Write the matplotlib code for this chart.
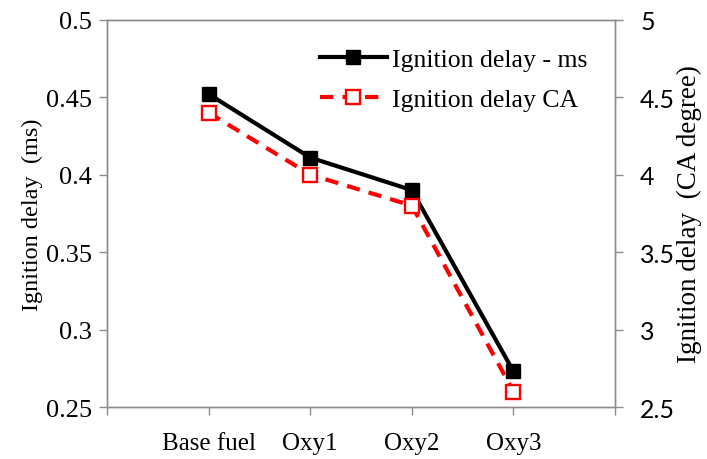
import numpy as np
import matplotlib.pyplot as plt

# categories (blank slots at both ends, like the Excel sheet)
categories = ["", "Base fuel", "Oxy1", "Oxy2", "Oxy3", ""]
fuels = ["Base fuel", "Oxy1", "Oxy2", "Oxy3"]
delay_ms = [0.452, 0.411, 0.390, 0.273]
delay_ca = [4.40, 4.00, 3.80, 2.60]

serif = "Liberation Serif"
grey = "#8c8c8c"

fig = plt.figure(figsize=(7.07, 4.60), dpi=100)
ax1 = fig.add_axes([0.1513, 0.113, 0.7187, 0.842])
ax2 = ax1.twinx()

x = np.arange(1, len(fuels) + 1)

l1, = ax1.plot(x, delay_ms, color="black", lw=3, marker="s", ms=9.5,
               mfc="black", mec="black", label="Ignition delay - ms")
l2, = ax2.plot(x, delay_ca, color="#ff0000", lw=3, ls=(0, (3.2, 2.2)), marker="s", ms=9.5,
               mfc="white", mec="#ff0000", mew=1.7, label="Ignition delay CA")

ax1.set_xlim(0, len(categories) - 1)
ax1.set_xticks(np.arange(len(categories)))
ax1.set_xticklabels(categories, fontfamily=serif, fontsize=18)

ax1.set_ylim(0.25, 0.5)
ax1.set_yticks([0.25, 0.3, 0.35, 0.4, 0.45, 0.5])
ax1.set_yticklabels(["0.25", "0.3", "0.35", "0.4", "0.45", "0.5"], fontfamily=serif, fontsize=19)
ax1.set_ylabel("Ignition delay  (ms)", fontfamily=serif, fontsize=17.5, labelpad=2)

ax2.set_ylim(2.5, 5)
ax2.set_yticks([2.5, 3, 3.5, 4, 4.5, 5])
ax2.set_yticklabels(["2.5", "3", "3.5", "4", "4.5", "5"], fontfamily="Lato", fontsize=18)
ax2.set_ylabel("Ignition delay  (CA degree)", fontfamily=serif, fontsize=19.5, labelpad=1)

for ax in (ax1, ax2):
    for s in ax.spines.values():
        s.set_color(grey)
        s.set_linewidth(1)
    ax.tick_params(direction="out", color=grey, length=6, width=1, pad=5)

ax1.tick_params(axis="x", pad=12)
ax2.tick_params(axis="y", pad=12)

leg = ax1.legend(handles=[l1, l2], loc="upper left", bbox_to_anchor=(0.419, 0.927),
                 frameon=False, prop={"family": serif, "size": 18.5},
                 borderaxespad=0, borderpad=0,
                 handlelength=2.6, handletextpad=0.2, labelspacing=0.68)

fig.savefig("out.png", dpi=100)
